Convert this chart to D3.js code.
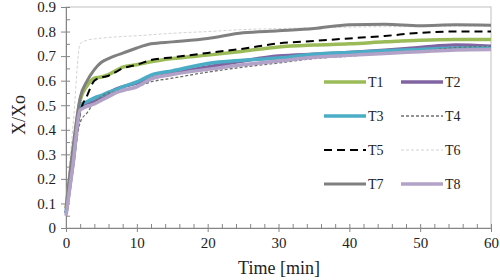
<!DOCTYPE html>
<html>
<head>
<meta charset="utf-8">
<script src="https://cdn.jsdelivr.net/npm/d3@7"></script>
<style>
  body { margin: 0; background: #fff; }
</style>
</head>
<body>
<div id="chart"></div>
<script>
"use strict";

// == DATA ==
var times = [0, 1, 2, 3, 4, 5, 6, 7, 8, 10, 12, 15, 20, 25, 30, 35, 40, 45, 50, 55, 60];
var T1 = [0.08, 0.31, 0.52, 0.58, 0.61, 0.615, 0.625, 0.64, 0.655, 0.665, 0.677, 0.69, 0.704, 0.72, 0.737, 0.745, 0.75, 0.758, 0.765, 0.768, 0.768];
var T2 = [0.06, 0.27, 0.49, 0.51, 0.515, 0.53, 0.55, 0.565, 0.575, 0.59, 0.61, 0.63, 0.656, 0.68, 0.70, 0.708, 0.715, 0.724, 0.735, 0.745, 0.74];
var T3 = [0.06, 0.27, 0.50, 0.515, 0.53, 0.54, 0.553, 0.562, 0.575, 0.595, 0.623, 0.64, 0.67, 0.683, 0.692, 0.708, 0.715, 0.722, 0.727, 0.733, 0.735];
var T4 = [0.07, 0.25, 0.43, 0.47, 0.51, 0.535, 0.55, 0.555, 0.562, 0.575, 0.595, 0.61, 0.635, 0.655, 0.672, 0.69, 0.70, 0.712, 0.72, 0.735, 0.74];
var T5 = [0.07, 0.28, 0.47, 0.54, 0.60, 0.613, 0.62, 0.635, 0.65, 0.665, 0.684, 0.695, 0.713, 0.73, 0.752, 0.762, 0.772, 0.782, 0.795, 0.80, 0.80];
var T6 = [0.10, 0.42, 0.75, 0.765, 0.77, 0.773, 0.776, 0.778, 0.78, 0.783, 0.787, 0.793, 0.80, 0.808, 0.812, 0.815, 0.818, 0.82, 0.82, 0.822, 0.822];
var T7 = [0.08, 0.33, 0.53, 0.60, 0.645, 0.675, 0.69, 0.702, 0.712, 0.733, 0.75, 0.758, 0.772, 0.795, 0.803, 0.812, 0.828, 0.83, 0.824, 0.828, 0.826];
var T8 = [0.05, 0.26, 0.48, 0.495, 0.505, 0.52, 0.535, 0.55, 0.56, 0.575, 0.607, 0.625, 0.646, 0.665, 0.68, 0.695, 0.703, 0.711, 0.718, 0.725, 0.727];

var names = ["T1", "T2", "T3", "T4", "T5", "T6", "T7", "T8"];
var values = [T1, T2, T3, T4, T5, T6, T7, T8];
var colors = ["#9BBB59", "#8064A2", "#4BACC6", "#6F6F6F", "#000000", "#C8C8C8", "#808080", "#B3A2C7"];
var widths = [3.5, 3.5, 3.5, 1.3, 2, 0.8, 3, 3.5];
var dashes = [null, null, null, "3,2", "8,5", "3,2", null, null];

var xTicks = [0, 10, 20, 30, 40, 50, 60];
var yTicks = [0, 0.1, 0.2, 0.3, 0.4, 0.5, 0.6, 0.7, 0.8, 0.9];

var serif = "'Liberation Serif', 'DejaVu Serif', 'Times New Roman', serif";

// == BOILERPLATE ==
var margin = { top: 7, right: 9, bottom: 52, left: 66 },
    width = 500 - margin.left - margin.right,
    height = 280 - margin.top - margin.bottom;

var root = d3.select("#chart")
  .append("svg")
  .attr("width", 500)
  .attr("height", 280)
  .style("font-family", serif);

var svg = root.append("g")
  .attr("transform", "translate(" + margin.left + "," + margin.top + ")");

var x = d3.scaleLinear().domain([0, 60]).range([0, width]);
var y = d3.scaleLinear().domain([0, 0.9]).range([height, 0]);

// plot border
svg.append("rect")
  .attr("x", 0).attr("y", 0)
  .attr("width", width).attr("height", height)
  .attr("fill", "none")
  .attr("stroke", "#c0c0c0")
  .attr("stroke-width", 1);

// minor ticks (inside)
var xAxisMinor = d3.axisTop(x).tickValues(d3.range(0, 61, 2)).tickSize(4).tickFormat("");
svg.append("g")
  .attr("transform", "translate(0," + height + ")")
  .call(xAxisMinor);
var yAxisMinor = d3.axisRight(y).tickValues(d3.range(0, 0.91, 0.05)).tickSize(4).tickFormat("");
svg.append("g").call(yAxisMinor);

// major axes
var xAxis = d3.axisBottom(x).tickValues(xTicks).tickSize(4).tickPadding(5).tickFormat(d3.format("d"));
var yAxis = d3.axisLeft(y).tickValues(yTicks).tickSize(5).tickPadding(5)
  .tickFormat(function (d) { return d === 0 ? "0" : d3.format(".1f")(d); });

svg.append("g")
  .attr("transform", "translate(0," + height + ")")
  .call(xAxis);
svg.append("g").call(yAxis);

svg.selectAll(".domain").attr("stroke", "#868686");
svg.selectAll(".tick line").attr("stroke", "#868686");
svg.selectAll(".tick text")
  .style("font-family", serif)
  .style("font-size", "15px")
  .attr("fill", "#222");

// == LINES ==
var line = d3.line()
  .x(function (d) { return x(d[0]); })
  .y(function (d) { return y(d[1]); })
  .curve(d3.curveMonotoneX);

names.forEach(function (n, i) {
  var pts = times.map(function (t, j) { return [t, values[i][j]]; });
  svg.append("path")
    .datum(pts)
    .attr("d", line)
    .attr("fill", "none")
    .attr("stroke", colors[i])
    .attr("stroke-width", widths[i])
    .attr("stroke-dasharray", dashes[i])
    .attr("stroke-linejoin", "round");
});

// == LEGEND ==
var legend = root.append("g");
names.forEach(function (n, i) {
  var col = i % 2, row = Math.floor(i / 2);
  var lx = 324 + col * 77, ly = 82 + row * 34;
  legend.append("line")
    .attr("x1", lx).attr("x2", lx + 42)
    .attr("y1", ly).attr("y2", ly)
    .attr("stroke", colors[i])
    .attr("stroke-width", widths[i])
    .attr("stroke-dasharray", dashes[i]);
  legend.append("text")
    .attr("x", lx + 44).attr("y", ly + 5)
    .style("font-family", serif)
    .style("font-size", "14px")
    .attr("fill", "#222")
    .text(n);
});

// == AXIS TITLES ==
root.append("text")
  .attr("x", 279).attr("y", 274)
  .attr("text-anchor", "middle")
  .style("font-family", serif)
  .style("font-size", "18px")
  .attr("fill", "#222")
  .text("Time [min]");

root.append("text")
  .attr("transform", "translate(25,115) rotate(-90)")
  .attr("text-anchor", "middle")
  .style("font-family", serif)
  .style("font-size", "18px")
  .attr("fill", "#222")
  .text("X/Xo");
</script>
</body>
</html>
